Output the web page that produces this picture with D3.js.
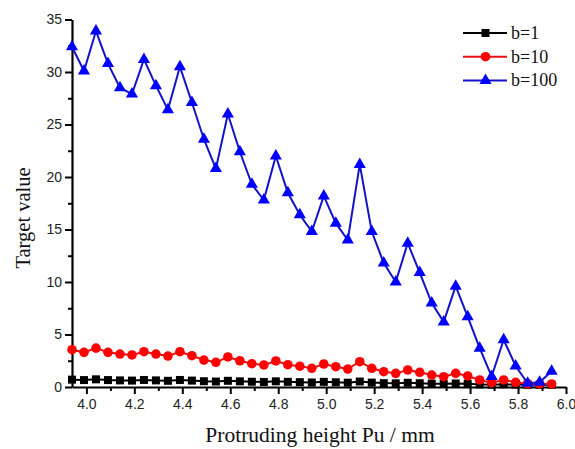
<!DOCTYPE html>
<html>
<head>
<meta charset="utf-8">
<script src="https://cdn.jsdelivr.net/npm/d3@7"></script>
<style>
    body { margin: 0; background: #fff; }
    .axis text { font-family: "Liberation Sans", Arial, sans-serif; font-size: 14px; fill: #222; }
    .axis-title, .legend text { font-family: "Liberation Serif", "Times New Roman", serif; fill: #111; }
</style>
</head>
<body>
<div id="chart-area"></div>
<script>

// protruding height Pu (mm), one point every 0.05
let heights = [3.94, 3.99, 4.04, 4.09, 4.14, 4.19, 4.24, 4.29, 4.34, 4.39,
    4.44, 4.49, 4.54, 4.59, 4.64, 4.69, 4.74, 4.79, 4.84, 4.89,
    4.94, 4.99, 5.04, 5.09, 5.14, 5.19, 5.24, 5.29, 5.34, 5.39,
    5.44, 5.49, 5.54, 5.59, 5.64, 5.69, 5.74, 5.79, 5.84, 5.89, 5.94];

let valuesB1 = [0.70, 0.66, 0.73, 0.66, 0.63, 0.61, 0.67, 0.63, 0.59, 0.67,
    0.61, 0.55, 0.52, 0.59, 0.54, 0.50, 0.48, 0.54, 0.49, 0.46,
    0.43, 0.49, 0.45, 0.41, 0.52, 0.42, 0.37, 0.35, 0.40, 0.36,
    0.32, 0.30, 0.34, 0.30, 0.25, 0.22, 0.26, 0.23, 0.21, 0.21, 0.22];

let valuesB10 = [3.55, 3.30, 3.70, 3.30, 3.14, 3.05, 3.36, 3.14, 2.95, 3.36,
    2.98, 2.57, 2.35, 2.86, 2.50, 2.22, 2.10, 2.48, 2.12, 1.98,
    1.78, 2.19, 1.93, 1.71, 2.41, 1.78, 1.46, 1.30, 1.62, 1.40,
    1.14, 0.98, 1.30, 1.05, 0.67, 0.41, 0.67, 0.45, 0.31, 0.30, 0.28];

let valuesB100 = [32.4, 30.1, 33.9, 30.8, 28.5, 27.9, 31.2, 28.7, 26.4, 30.5,
    27.1, 23.6, 20.8, 26.0, 22.4, 19.3, 17.8, 22.0, 18.5, 16.4,
    14.8, 18.2, 15.6, 14.0, 21.2, 14.8, 11.8, 10.0, 13.7, 10.9,
    8.0, 6.2, 9.6, 6.7, 3.7, 1.0, 4.5, 2.0, 0.35, 0.45, 1.5];

let seriesNames = ["b=1", "b=10", "b=100"];
let xTicks = [4.0, 4.2, 4.4, 4.6, 4.8, 5.0, 5.2, 5.4, 5.6, 5.8, 6.0];
let yTicks = [0, 5, 10, 15, 20, 25, 30, 35];

class TargetChart {

    constructor(parentElement) {
        this.parentElement = parentElement;
        this.series = [
            {name: seriesNames[0], values: valuesB1, line: "#000000", fill: "#000000", shape: d3.symbolSquare, size: 64},
            {name: seriesNames[1], values: valuesB10, line: "#e81010", fill: "#ff0000", shape: d3.symbolCircle, size: 72},
            {name: seriesNames[2], values: valuesB100, line: "#1212c8", fill: "#0000ff", shape: d3.symbolTriangle, size: 64}
        ];
        this.initVis();
    }

    initVis() {
        let vis = this;

        vis.svg = d3.select("#" + vis.parentElement).append("svg")
            .attr("width", 575)
            .attr("height", 449);

        // plot area
        vis.xScale = d3.scaleLinear().domain([3.94, 6.0]).range([72, 566]);
        vis.yScale = d3.scaleLinear().domain([0, 35]).range([387, 19.5]);

        // minor ticks first, so major ones sit on top
        vis.svg.append("g")
            .attr("class", "axis")
            .attr("transform", "translate(0,387)")
            .call(d3.axisBottom(vis.xScale).tickValues(d3.range(4.1, 6.0, 0.2)).tickSize(4).tickFormat(""))
            .call(g => g.select(".domain").remove())
            .call(g => g.selectAll("line").attr("stroke-width", 2));

        vis.svg.append("g")
            .attr("class", "axis")
            .attr("transform", "translate(72,0)")
            .call(d3.axisLeft(vis.yScale).tickValues(d3.range(2.5, 35, 5)).tickSize(4).tickFormat(""))
            .call(g => g.select(".domain").remove())
            .call(g => g.selectAll("line").attr("stroke-width", 2));

        vis.xAxis = d3.axisBottom(vis.xScale)
            .tickValues(xTicks)
            .tickSize(7)
            .tickSizeOuter(0)
            .tickPadding(5)
            .tickFormat(d3.format(".1f"));

        vis.yAxis = d3.axisLeft(vis.yScale)
            .tickValues(yTicks)
            .tickSize(7)
            .tickSizeOuter(0)
            .tickPadding(3);

        vis.svg.append("g")
            .attr("class", "x-axis axis")
            .attr("transform", "translate(0,387)")
            .call(vis.xAxis)
            .call(g => g.select(".domain").attr("stroke-width", 2.2))
            .call(g => g.selectAll("line").attr("stroke-width", 2));

        vis.svg.append("g")
            .attr("class", "y-axis axis")
            .attr("transform", "translate(72,0)")
            .call(vis.yAxis)
            .call(g => g.select(".domain").attr("stroke-width", 2.2))
            .call(g => g.selectAll("line").attr("stroke-width", 2));

        // axis titles
        vis.svg.append("text")
            .attr("class", "axis-title")
            .attr("x", 320)
            .attr("y", 442)
            .attr("text-anchor", "middle")
            .attr("font-size", 21.5)
            .text("Protruding height Pu / mm");

        vis.svg.append("text")
            .attr("class", "axis-title")
            .attr("transform", "translate(30,218) rotate(-90)")
            .attr("text-anchor", "middle")
            .attr("font-size", 20.5)
            .text("Target value");

        vis.line = d3.line()
            .x((d, i) => vis.xScale(heights[i]))
            .y(d => vis.yScale(d));

        vis.updateVis();
        vis.drawLegend();
    }

    updateVis() {
        let vis = this;

        vis.series.forEach(s => {
            let g = vis.svg.append("g").attr("class", "series");

            g.append("path")
                .datum(s.values)
                .attr("fill", "none")
                .attr("stroke", s.line)
                .attr("stroke-width", 2)
                .attr("d", vis.line);

            g.selectAll("path.marker")
                .data(s.values)
                .join("path")
                .attr("class", "marker")
                .attr("d", d3.symbol().type(s.shape).size(s.size))
                .attr("fill", s.fill)
                .attr("transform", (d, i) => `translate(${vis.xScale(heights[i])},${vis.yScale(d)})`);
        });
    }

    drawLegend() {
        let vis = this;

        let legend = vis.svg.append("g")
            .attr("class", "legend")
            .attr("transform", "translate(463,33)");

        let rows = legend.selectAll("g")
            .data(vis.series)
            .join("g")
            .attr("transform", (d, i) => `translate(0,${i * 23.7})`);

        rows.append("line")
            .attr("x1", 0)
            .attr("x2", 44)
            .attr("stroke", d => d.line)
            .attr("stroke-width", 2);

        rows.append("path")
            .attr("d", d => d3.symbol().type(d.shape).size(d.size)())
            .attr("fill", d => d.fill)
            .attr("transform", "translate(22.5,0)");

        rows.append("text")
            .attr("x", 48)
            .attr("y", 6)
            .attr("font-size", 18)
            .text(d => d.name);
    }
}

new TargetChart("chart-area");

</script>
</body>
</html>
